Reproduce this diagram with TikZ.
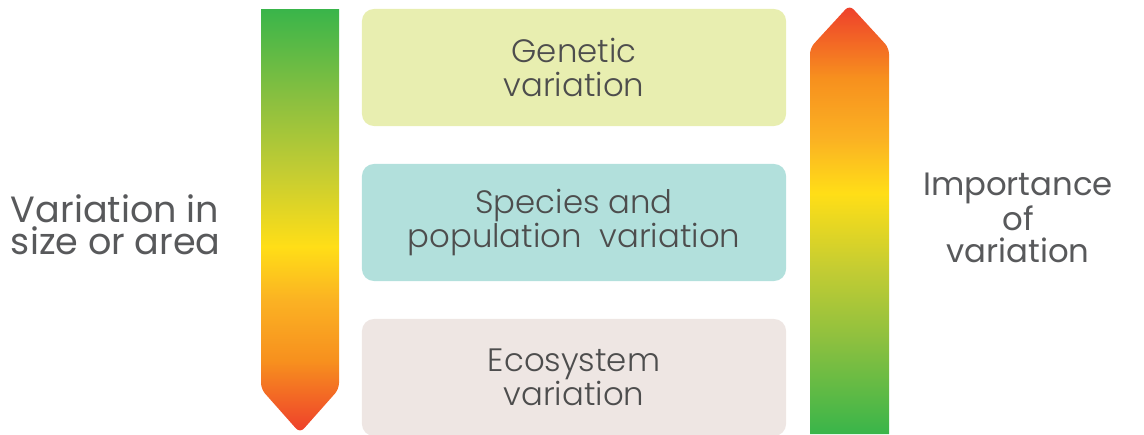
\documentclass[tikz,border=0pt]{standalone}
\usepackage{fontspec}
\setmainfont{Poppins}
\newfontfamily\thinfont{Poppins}[UprightFont=* Light]
\usepackage{tikz}
\usetikzlibrary{positioning}
\usepackage{xcolor}
\definecolor{lvlgreen}{HTML}{39B54A}
\definecolor{lvlleaf}{HTML}{8DC03F}
\definecolor{lvlolive}{HTML}{C2CC33}
\definecolor{lvlyellow}{HTML}{FFDE17}
\definecolor{lvlamber}{HTML}{FBB123}
\definecolor{lvlorange}{HTML}{F7901E}
\definecolor{lvlred}{HTML}{EE3E2C}
\definecolor{genefill}{HTML}{E8EEB0}
\definecolor{speciesfill}{HTML}{B2E0DC}
\definecolor{ecofill}{HTML}{EEE6E3}
\definecolor{inktext}{HTML}{4D4D4D}
\definecolor{labeltext}{HTML}{58595B}
% green at the top, red at the bottom
\pgfdeclareverticalshading{levelshade}{100bp}{
  color(0bp)=(lvlred); color(25bp)=(lvlred); color(33.5bp)=(lvlorange);
  color(40.5bp)=(lvlamber); color(47bp)=(lvlyellow); color(56bp)=(lvlolive);
  color(64bp)=(lvlleaf); color(75bp)=(lvlgreen); color(100bp)=(lvlgreen)}
\tikzset{
  level/.style={
    rectangle, rounded corners=0.3cm, draw=none, fill=#1,
    minimum width=10.6cm, minimum height=2.925cm,
    font=\thinfont\fontsize{23}{24.5}\selectfont, text=inktext,
    align=center
  },
  sidelabel/.style={
    font=\fontsize{#1}{23}\selectfont, text=labeltext
  },
  bar/.style={shading=levelshade, draw=none},
}
\begin{document}
\begin{tikzpicture}[x=0.025cm, y=-0.025cm]
\useasboundingbox (0,0) rectangle (1144,434);

% Gradient arrows
\path[bar] (261,9) -- (339,9) [rounded corners=0.15cm] -- (339,389)
  -- (300,433) -- (261,389) [sharp corners] -- cycle;
\path[bar, shading angle=180] (810,434) -- (889,434) [rounded corners=0.15cm]
  -- (889,48) -- (849.5,5) -- (810,48) [sharp corners] -- cycle;

% Levels
\node[level=genefill] (gene) at (574,67.5) {Genetic\\variation};
\node[level=speciesfill] (species) at (574,222.5) {Species and\\population\ \ variation};
\node[level=ecofill] (eco) at (574,377.5) {Ecosystem\\variation};

% Side labels
\node[sidelabel=26, align=left, anchor=west] (size) at (6,225) {Variation in\\size or area};
\node[sidelabel=23, align=center] (importance) at (1018,218) {Importance\\of\\variation};

\end{tikzpicture}
\end{document}
